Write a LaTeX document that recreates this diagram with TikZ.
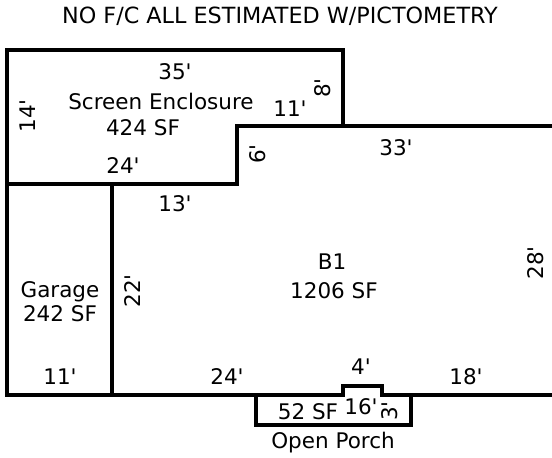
\documentclass[tikz,border=0pt]{standalone}
\usepackage{fontspec}
\setmainfont{DejaVu Sans}[Ligatures=TeXOff]
\tikzset{
  wall/.style={line width=3.5pt,line join=miter,line cap=rect},
  lbl/.style={inner sep=0pt,font=\fontsize{21.5}{24}\selectfont,align=center},
  vlbl/.style={lbl,rotate=90}
}

\begin{document}
\begin{tikzpicture}[x=1pt,y=-1pt]
    \useasboundingbox (0,0) rectangle (552,458);
    \coordinate (TL) at (7,50);
    \coordinate (TR) at (343,50);
    \coordinate (SR) at (343,126);
    \coordinate (SS) at (237,126);
    \coordinate (SE) at (552,126);
    \coordinate (SB) at (237,184);
    \coordinate (ML) at (7,184);
    \coordinate (MG) at (112,184);
    \coordinate (BL) at (7,395);
    \coordinate (BG) at (112,395);
    \coordinate (BE) at (552,395);
    \coordinate (P1) at (256,395);
    \coordinate (P2) at (256,425);
    \coordinate (P3) at (411,425);
    \coordinate (P4) at (411,395);
    \coordinate (B1) at (343,395);
    \coordinate (B2) at (343,386);
    \coordinate (B3) at (382,386);
    \coordinate (B4) at (382,395);

    \draw[wall] (SE) -- (SS) -- (SB) -- (ML);
    \draw[wall] (SR) -- (TR) -- (TL) -- (BL) -- (B1) -- (B2) -- (B3) -- (B4) -- (BE);
    \draw[wall] (MG) -- (BG);
    \draw[wall] (P1) -- (P2) -- (P3) -- (P4);

    \node[lbl,font=\fontsize{22.3}{24}\selectfont] (title) at (280,16) {NO F/C ALL ESTIMATED W/PICTOMETRY};
    \node[lbl] (top35) at (175,72) {35'};
    \node[lbl] (screen) at (161,101) {Screen Enclosure};
    \node[lbl] (screensf) at (143,128) {424 SF};
    \node[lbl] (s11) at (290,109) {11'};
    \node[vlbl] (s8) at (323,88) {8'};
    \node[vlbl] (s14) at (28,116) {14'};
    \node[lbl] (s24) at (123,166) {24'};
    \node[vlbl] (s6) at (258,154) {6'};
    \node[lbl] (t33) at (396,148) {33'};
    \node[lbl] (t13) at (175,204) {13'};
    \node[vlbl] (g22) at (133,291) {22'};
    \node[vlbl] (r28) at (536,263) {28'};
    \node[lbl] (b1) at (332,262) {B1};
    \node[lbl] (b1sf) at (334,291) {1206 SF};
    \node[lbl] (garage) at (60,292) {Garage};
    \node[lbl] (garagesf) at (60,314) {242 SF};
    \node[lbl] (g11) at (60,377) {11'};
    \node[lbl] (b24) at (227,377) {24'};
    \node[lbl] (b4) at (361,367) {4'};
    \node[lbl] (b18) at (466,377) {18'};
    \node[lbl] (porchsf) at (308,412) {52 SF};
    \node[lbl] (p16) at (361,407) {16'};
    \node[vlbl] (p3) at (390,411) {3'};
    \node[lbl] (porch) at (333,443) {Open Porch};
\end{tikzpicture}
\end{document}
